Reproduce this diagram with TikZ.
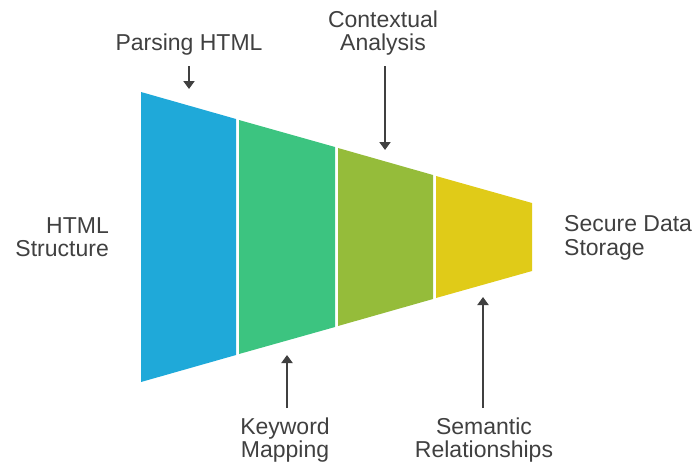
\documentclass[tikz,border=0pt]{standalone}
\usepackage{fontspec}
\setmainfont{Liberation Sans}
\usetikzlibrary{arrows.meta}
\definecolor{segblue}{HTML}{1FA9D9}
\definecolor{seggreen}{HTML}{3CC480}
\definecolor{segolive}{HTML}{95BC3A}
\definecolor{segyellow}{HTML}{E0CB18}
\definecolor{ink}{HTML}{404040}
\tikzset{
  lbl/.style={text=ink, inner sep=0pt, font=\fontsize{23}{23.5}\selectfont},
  pointer/.style={draw=ink, line width=2.7pt, -{Triangle[width=11pt,length=8pt]}},
}
\begin{document}
\begin{tikzpicture}[x=1pt,y=-1pt]
\useasboundingbox (0,0) rectangle (692,461);
% funnel segments
\fill[segblue]   (141,92) -- (236,119) -- (236,355) -- (141,382) -- cycle;
\fill[seggreen]  (239,120) -- (335,147) -- (335,327) -- (239,354) -- cycle;
\fill[segolive]  (338,148) -- (433,175) -- (433,299) -- (338,326) -- cycle;
\fill[segyellow] (436,176) -- (532,203) -- (532,271) -- (436,298) -- cycle;
% labels
\node[lbl] (parsing) at (189,45) {Parsing HTML};
\node[lbl, align=center] (context) at (383,33) {Contextual\\Analysis};
\node[lbl, align=center] (keyword) at (285,440) {Keyword\\Mapping};
\node[lbl, align=center] (semantic) at (484,440) {Semantic\\Relationships};
\node[lbl, align=right, anchor=east] (html) at (109,237) {HTML\\Structure};
\node[lbl, align=left, anchor=west] (secure) at (564,238) {Secure Data\\Storage};
% arrow endpoints
\coordinate (p1) at (189,66);  \coordinate (p2) at (189,89);
\coordinate (c1) at (385,66);  \coordinate (c2) at (385,150);
\coordinate (k1) at (287,408); \coordinate (k2) at (287,355);
\coordinate (s1) at (483,408); \coordinate (s2) at (483,297);
\draw[pointer] (p1) -- (p2);
\draw[pointer] (c1) -- (c2);
\draw[pointer] (k1) -- (k2);
\draw[pointer] (s1) -- (s2);
\end{tikzpicture}
\end{document}
